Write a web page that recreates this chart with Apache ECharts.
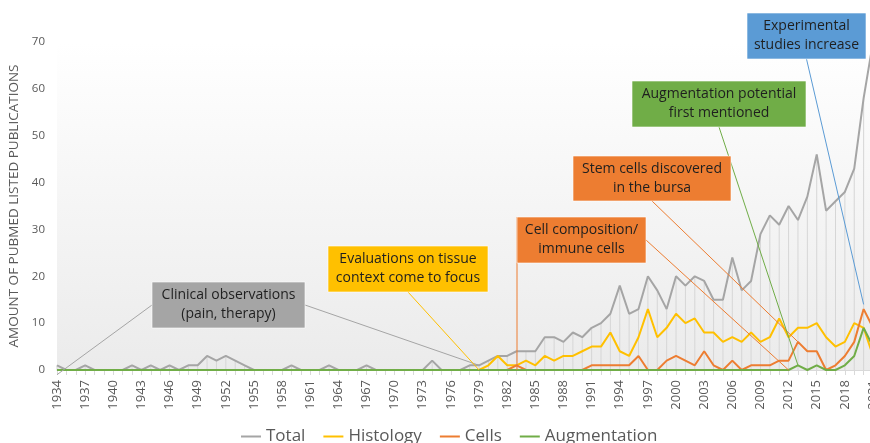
<!DOCTYPE html>
<html>
<head>
<meta charset="utf-8">
<script src="https://cdn.jsdelivr.net/npm/echarts@6/dist/echarts.min.js"></script>
<style>
html,body{margin:0;padding:0;background:#fff;}
#main{width:870px;height:443px;}
</style>
</head>
<body>
<div id="main"></div>
<script>
// ---- data ----
var years = [];
for (var y = 1934; y <= 2021; y++) years.push(String(y));

var total = [1,0,0,1,0,0,0,0,1,0,1,0,1,0,1,1,3,2,3,2,1,0,0,0,0,1,0,0,0,1,0,0,0,1,0,0,0,0,0,0,2,0,0,0,
  1,1,2,3,3,4,4,4,7,7,6,8,7,9,10,12,18,12,13,20,17,13,20,18,20,19,15,15,24,17,19,29,33,31,35,32,37,46,34,36,38,43,58,70];
var histology = [0,0,0,0,0,0,0,0,0,0,0,0,0,0,0,0,0,0,0,0,0,0,0,0,0,0,0,0,0,0,0,0,0,0,0,0,0,0,0,0,0,0,0,0,
  0,0,1,3,1,1,2,1,3,2,3,3,4,5,5,8,4,3,7,13,7,9,12,10,11,8,8,6,7,6,8,6,7,11,7,9,9,10,7,5,6,10,9,3];
var cells = [0,0,0,0,0,0,0,0,0,0,0,0,0,0,0,0,0,0,0,0,0,0,0,0,0,0,0,0,0,0,0,0,0,0,0,0,0,0,0,0,0,0,0,0,
  0,0,0,0,0,1,0,0,0,0,0,0,0,1,1,1,1,1,3,0,0,2,3,2,1,4,1,0,2,0,1,1,1,2,2,6,4,4,0,1,3,6,13,9];
var augmentation = [0,0,0,0,0,0,0,0,0,0,0,0,0,0,0,0,0,0,0,0,0,0,0,0,0,0,0,0,0,0,0,0,0,0,0,0,0,0,0,0,0,0,0,0,
  0,0,0,0,0,0,0,0,0,0,0,0,0,0,0,0,0,0,0,0,0,0,0,0,0,0,0,0,0,0,0,0,0,0,0,1,0,1,0,0,1,3,9,5];
var yTicks = [0,10,20,30,40,50,60,70];
var seriesNames = ['Total','Histology','Cells','Augmentation'];

// annotations: text, colour, box [x,y,w,h] (layout), leader lines: [start side, anchor year, anchor value]
var notes = [
  {text:'Clinical observations\n(pain, therapy)', color:'#A5A5A5', box:[152,282,153,46],
   leaders:[['left','1934',-1],['right','1979',1]]},
  {text:'Evaluations on tissue\ncontext come to focus', color:'#FFC000', box:[328,246,160,46],
   leaders:[['bottom','1979',0]]},
  {text:'Cell composition/\nimmune cells', color:'#ED7D31', box:[517,217,129,46],
   leaders:[['bottomleft','1983',0],['right','2012',0]]},
  {text:'Stem cells discovered\nin the bursa', color:'#ED7D31', box:[573,156,158,45],
   leaders:[['bottom','2013',6]]},
  {text:'Augmentation potential\nfirst mentioned', color:'#70AD47', box:[632,81,174,46],
   leaders:[['bottom','2013',1]]},
  {text:'Experimental\nstudies increase', color:'#5B9BD5', box:[747,13,119,46],
   leaders:[['bottom','2020',14]]}
];

var FONT = '"Open Sans", "Noto Sans", sans-serif';
var chart = echarts.init(document.getElementById('main'));

var option = {
  animation: false,
  backgroundColor: '#ffffff',
  grid: {
    left: 57, top: 42, width: 816, height: 328, show: true, borderWidth: 0,
    outerBoundsMode: 'none', containLabel: false,
    backgroundColor: {type:'linear', x:0, y:0, x2:0, y2:1,
      colorStops:[{offset:0,color:'#ffffff'},{offset:1,color:'#ebebeb'}]}
  },
  legend: {
    data: seriesNames, left: 236, top: 423, icon: 'rect', itemWidth: 20, itemHeight: 2,
    itemGap: 18, textStyle: {fontFamily: FONT, fontSize: 17, color: '#595959'}
  },
  xAxis: {
    type: 'category', data: years, boundaryGap: false,
    axisLine: {lineStyle: {color: '#d9d9d9'}},
    axisTick: {show: true, interval: 0, length: 5, lineStyle: {color: '#d9d9d9'}},
    axisLabel: {interval: 2, rotate: 90, margin: 10, fontFamily: FONT, fontSize: 13, color: '#595959', hideOverlap: false},
    splitLine: {show: false}
  },
  yAxis: {
    type: 'value', min: yTicks[0], max: yTicks[yTicks.length-1], interval: 10,
    name: 'AMOUNT OF PUBMED LISTED PUBLICATIONS', nameLocation: 'middle', nameGap: 25,
    nameTextStyle: {fontFamily: FONT, fontSize: 13.5, color: '#595959'},
    axisLine: {show: false}, axisTick: {show: false}, splitLine: {show: false},
    axisLabel: {margin: 12, fontFamily: FONT, fontSize: 11.5, color: '#595959'}
  },
  series: [
    {name: 'drop', type: 'bar', data: total, barWidth: 1, itemStyle: {color: '#d6d6d6'}, z: 1, silent: true},
    {name: 'Total', type: 'line', data: total, symbol: 'none', lineStyle: {color: '#A5A5A5', width: 2}, itemStyle:{color:'#A5A5A5'}, z: 2},
    {name: 'Histology', type: 'line', data: histology, symbol: 'none', lineStyle: {color: '#FFC000', width: 2}, itemStyle:{color:'#FFC000'}, z: 3},
    {name: 'Cells', type: 'line', data: cells, symbol: 'none', lineStyle: {color: '#ED7D31', width: 2}, itemStyle:{color:'#ED7D31'}, z: 4},
    {name: 'Augmentation', type: 'line', data: augmentation, symbol: 'none', lineStyle: {color: '#70AD47', width: 2}, itemStyle:{color:'#70AD47'}, z: 5}
  ]
};
chart.setOption(option);

// annotations drawn after layout, leader ends anchored via the axes
var g = [];
notes.forEach(function(n){
  var b = n.box;
  n.leaders.forEach(function(l){
    var p = chart.convertToPixel({gridIndex:0}, [l[1], l[2]]);
    var s;
    if (l[0]==='left') s=[b[0], b[1]+b[3]/2];
    else if (l[0]==='right') s=[b[0]+b[2], b[1]+b[3]/2];
    else if (l[0]==='bottomleft') { s=[b[0], b[1]]; p=[b[0], p[1]]; }
    else s=[b[0]+b[2]/2, b[1]+b[3]];
    g.push({type:'line', z:50, shape:{x1:s[0],y1:s[1],x2:p[0],y2:p[1]}, style:{stroke:n.color, lineWidth:1}});
  });
  g.push({type:'rect', z:60, shape:{x:b[0],y:b[1],width:b[2],height:b[3]},
    style:{fill:n.color, stroke:'rgba(255,255,255,0.6)', lineWidth:1}});
  g.push({type:'text', z:61, x:b[0]+b[2]/2, y:b[1]+b[3]/2,
    style:{text:n.text, fill:'#1f1f1f', font:'14px '+FONT, align:'center', verticalAlign:'middle', lineHeight:19}});
});
chart.setOption({graphic: g});
</script>
</body>
</html>
